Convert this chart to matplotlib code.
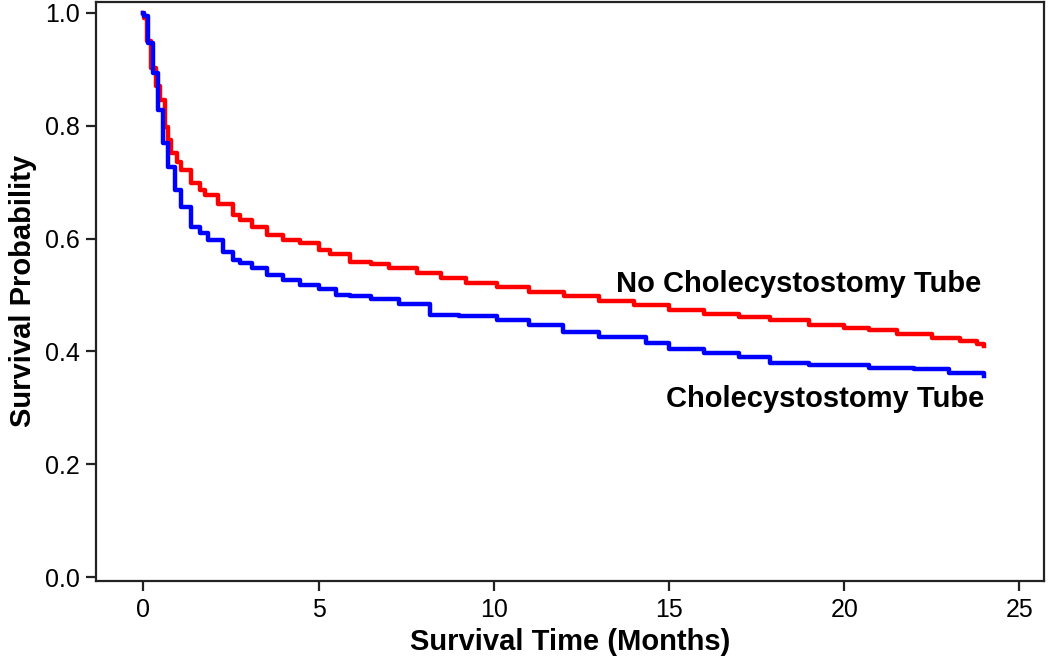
import matplotlib.pyplot as plt

plt.rcParams['font.family'] = ['Liberation Sans', 'DejaVu Sans']

# Kaplan-Meier estimates (months, survival)
no_tube_t = [0, 0.02, 0.1, 0.22, 0.35, 0.47, 0.61, 0.7, 0.8, 0.95, 1.09, 1.37,
             1.62, 1.75, 2.13, 2.56, 2.76, 3.1, 3.52, 4.0, 4.47, 5.0, 5.33,
             5.89, 6.5, 7.0, 7.8, 8.5, 9.2, 10.08, 11.0, 12.0, 13.0, 14.0, 15.0,
             16.0, 17.0, 17.87, 19.0, 20.0, 20.7, 21.5, 22.5, 23.3, 23.8, 24.0]
no_tube_s = [1.0, 0.99, 0.95, 0.903, 0.87, 0.845, 0.797, 0.775, 0.751, 0.735,
             0.721, 0.698, 0.686, 0.677, 0.662, 0.641, 0.632, 0.62, 0.606, 0.598,
             0.592, 0.58, 0.573, 0.559, 0.554, 0.548, 0.538, 0.53, 0.522, 0.514,
             0.505, 0.498, 0.49, 0.482, 0.473, 0.467, 0.46, 0.455, 0.447, 0.442,
             0.437, 0.43, 0.423, 0.418, 0.413, 0.41]

tube_t = [0, 0.02, 0.14, 0.28, 0.42, 0.57, 0.71, 0.9, 1.09, 1.37, 1.62, 1.85,
          2.28, 2.56, 2.76, 3.1, 3.52, 4.0, 4.47, 5.0, 5.5, 5.89, 6.5, 7.3, 8.18,
          9.0, 10.08, 11.0, 11.97, 13.0, 14.35, 15.0, 16.0, 17.0, 17.87, 19.0,
          20.7, 22.0, 23.0, 24.0]
tube_s = [1.0, 0.995, 0.946, 0.893, 0.827, 0.769, 0.727, 0.686, 0.655, 0.62,
          0.61, 0.598, 0.576, 0.562, 0.556, 0.548, 0.535, 0.526, 0.517, 0.51,
          0.50, 0.498, 0.493, 0.484, 0.464, 0.462, 0.455, 0.447, 0.435, 0.425,
          0.415, 0.405, 0.397, 0.39, 0.379, 0.375, 0.37, 0.368, 0.362, 0.357]

x_ticks = [0, 5, 10, 15, 20, 25]
y_ticks = [0.0, 0.2, 0.4, 0.6, 0.8, 1.0]

fig = plt.figure(figsize=(10.5, 6.63), dpi=100)
ax = fig.add_axes([0.0914, 0.1237, 0.9029, 0.874])

ax.plot(no_tube_t, no_tube_s, drawstyle='steps-post', color='#ff0000', lw=3.2)
ax.plot(tube_t, tube_s, drawstyle='steps-post', color='#0000ff', lw=3.2)

ax.text(23.92, 0.505, 'No Cholecystostomy Tube', ha='right', va='baseline',
        fontsize=21, fontweight='bold')
ax.text(24.0, 0.301, 'Cholecystostomy Tube', ha='right', va='baseline',
        fontsize=21, fontweight='bold')

ax.set_xlim(-1.35, 25.7)
ax.set_ylim(-0.007, 1.02)
ax.set_xticks(x_ticks)
ax.set_yticks(y_ticks)
ax.set_yticklabels(['%.1f' % v for v in y_ticks])

for s in ax.spines.values():
    s.set_color('#222222')
    s.set_linewidth(1.6)
ax.tick_params(direction='out', length=7.5, width=1.6, color='#222222',
               labelsize=18)
ax.tick_params(axis='x', pad=5)
ax.tick_params(axis='y', pad=4)

ax.set_xlabel('Survival Time (Months)', fontsize=21, fontweight='bold', labelpad=4)
ax.set_ylabel('Survival Probability', fontsize=21, fontweight='bold', labelpad=6)

fig.savefig('out.png', dpi=100)
